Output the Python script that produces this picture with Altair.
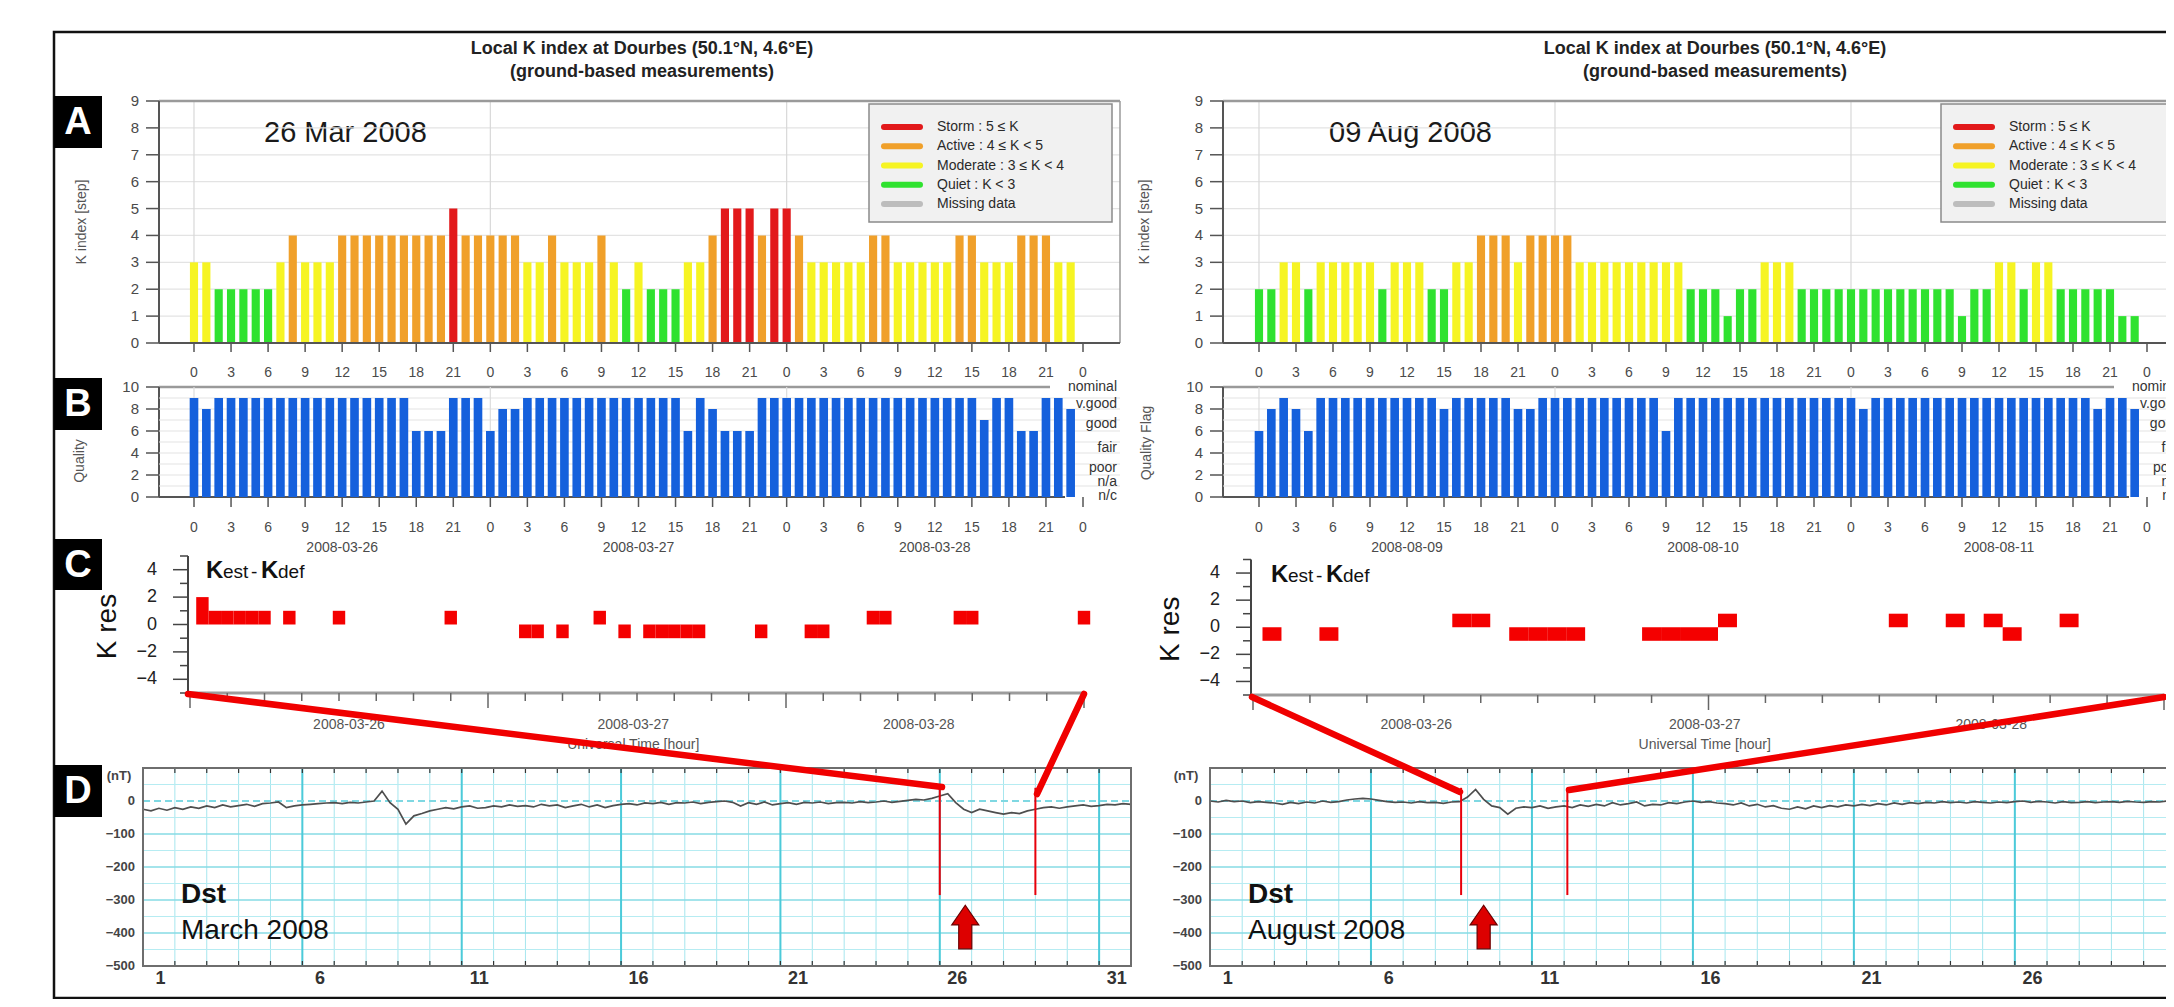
import altair as alt
import pandas as pd

# ====================== DATA ======================
HOURS = list(range(72))

K_MAR = [3, 3, 2, 2, 2, 2, 2, 3, 4, 3, 3, 3, 4, 4, 4, 4, 4, 4, 4, 4, 4, 5,
         4, 4, 4, 4, 4, 3, 3, 4, 3, 3, 3, 4, 3, 2, 3, 2, 2, 2, 3, 3, 4, 5,
         5, 5, 4, 5, 5, 4, 3, 3, 3, 3, 3, 4, 4, 3, 3, 3, 3, 3, 4, 4, 3, 3,
         3, 4, 4, 4, 3, 3]
K_AUG = [2, 2, 3, 3, 2, 3, 3, 3, 3, 3, 2, 3, 3, 3, 2, 2, 3, 3, 4, 4, 4, 3,
         4, 4, 4, 4, 3, 3, 3, 3, 3, 3, 3, 3, 3, 2, 2, 2, 1, 2, 2, 3, 3, 3,
         2, 2, 2, 2, 2, 2, 2, 2, 2, 2, 2, 2, 2, 1, 2, 2, 3, 3, 2, 3, 3, 2,
         2, 2, 2, 2, 1, 1]
Q_MAR = [9, 8, 9, 9, 9, 9, 9, 9, 9, 9, 9, 9, 9, 9, 9, 9, 9, 9,
         6, 6, 6, 9, 9, 9, 6, 8, 8,
         9, 9, 9, 9, 9, 9, 9, 9, 9, 9, 9, 9, 9,
         6, 9, 8, 6, 6, 6,
         9, 9, 9, 9, 9, 9, 9, 9, 9, 9, 9, 9, 9, 9, 9, 9, 9, 9,
         7, 9, 9, 6, 6, 9, 9, 8]
Q_AUG = [6, 8, 9, 8, 6,
         9, 9, 9, 9, 9, 9, 9, 9, 9, 9,
         8, 9, 9, 9, 9, 9, 8, 8,
         9, 9, 9, 9, 9, 9, 9, 9, 9, 9,
         6,
         9, 9, 9, 9, 9, 9, 9, 9, 9, 9, 9, 9, 9, 9, 9,
         8,
         9, 9, 9, 9, 9, 9, 9, 9, 9, 9, 9, 9, 9, 9, 9, 9, 9, 9,
         8, 9, 9, 8]

KRES_MAR_H = [1, 2, 3, 4, 5, 6, 8, 12, 21, 27, 28, 30, 33, 35, 37, 38, 39, 40,
              41, 46, 50, 51, 55, 56, 62, 63, 72]
KRES_MAR_V = [2, 1, 1, 1, 1, 1, 1, 1, 1, -1, -1, -1, 1, -1, -1, -1, -1, -1,
              -1, -1, -1, -1, 1, 1, 1, 1, 1]
KRES_AUG_H = [1, 4, 11, 12, 14, 15, 16, 17, 21, 22, 23, 24, 25, 34, 37, 39, 40, 43]
KRES_AUG_V = [-1, -1, 1, 1, -1, -1, -1, -1, -1, -1, -1, -1, 1, 1, 1, 1, -1, 1]

DST_DAYS = [1 + i * 0.25 for i in range(125)]
DST_MAR = [-25, -30, -22, -28, -20, -25, -18, -22, -15, -20, -12, -18,
           -14, -10, -16, -8, -6, -3, -20, -15, -12, -10, -8, -6,
           -5, -8, -4, -6, -3, 0, 30, -5, -25, -70, -45, -38,
           -30, -25, -20, -24, -18, -15, -22, -20, -15, -18, -12, -16,
           -14, -18, -10, -15, -12, -20, -15, -10, -18, -12, -20, -14,
           -10, -8, -12, -6, -8, -4, -10, -5, -6, -3, -8, -4,
           -2, 0, -4, -15, -5, -10, -3, -12, -8, -5, -10, -4,
           -6, -3, -8, -5, -4, -6, -2, -5, -3, 0, -4, -1,
           2, 5, 3, 8, 15, 22, -5, -25, -35, -25, -30, -35,
           -40, -35, -38, -30, -25, -20, -18, -22, -18, -15, -12, -16,
           -14, -10, -12, -8, -10]
DST_AUG = [0, -3, 2, -2, 0, -5, -2, -4, -6, -10, -4, -8,
           -3, -6, 0, -4, -2, 3, 6, 8, 6, 2, -2, -4,
           -3, -6, -2, -5, -4, -7, -3, -2, 12, 35, 5, -15,
           -20, -40, -22, -18, -20, -15, -22, -18, -15, -20, -12, -16,
           -10, -15, -5, -12, -8, -3, -15, -10, -12, -5, -8, -3,
           0, -4, -2, -6, -8, -12, -6, -15, -10, -18, -14, -22,
           -25, -18, -24, -15, -20, -14, -18, -12, -15, -10, -14, -8,
           -12, -6, -10, -5, -8, -4, -6, -2, -5, -3, -6, -2,
           -4, -6, -3, -5, -2, 0, -4, -1, -3, -6, -2, -5,
           -4, -2, -5, -3, -2, -4, -1, -3, -4, -2, -3, 0,
           -2, 0, -3, -1, -2]
MARKERS_MAR = [26.0, 29.0]
MARKERS_AUG = [8.8, 12.1]
ARROW_MAR = [26.8]
ARROW_AUG = [9.5]

K_CATS = ["Storm", "Active", "Moderate", "Quiet", "Missing"]
K_LABELS = ["Storm : 5 \u2264 K", "Active : 4 \u2264 K < 5", "Moderate : 3 \u2264 K < 4",
            "Quiet : K < 3", "Missing data"]
K_COLORS = ["#e2191b", "#f0a02a", "#f6f423", "#2fe22f", "#bdbdbd"]
QUALITY_NAMES = ["nominal", "v.good", "good", "fair", "poor", "n/a", "n/c"]
QUALITY_LEVELS = [10, 8.5, 6.6, 4.5, 2.6, 1.4, 0.1]
HOUR_TICKS = list(range(0, 73, 3))
DAY_BOUNDS = [0, 24, 48]
K_TICKS = list(range(10))
Q_TICKS = [0, 2, 4, 6, 8, 10]
KRES_TICKS = list(range(-5, 6))
KRES_LABELS = [-4, -2, 0, 2, 4]
DST_TICKS = [0, -100, -200, -300, -400, -500]
DST_GRID_100 = [-100, -200, -300, -400]
DST_GRID_50 = [50, -50, -150, -250, -350, -450]
DST_DAY_LABELS = [1, 6, 11, 16, 21, 26, 31]
DST_ALL_DAYS = list(range(1, 33))
DATES_MAR = ["2008-03-26", "2008-03-27", "2008-03-28"]
DATES_AUG = ["2008-08-09", "2008-08-10", "2008-08-11"]
DATE_HOURS = [12, 36, 60]
C_DATES = ["2008-03-26", "2008-03-27", "2008-03-28"]
C_DATE_HOURS_MAR = [12.8, 35.7, 58.7]
C_DATE_HOURS_AUG = [8.6, 23.8, 38.9]

# ====================== LAYOUT / STYLE ======================
OFF = 8
W, H = 2158, 991
FONT = "Liberation Sans, Arial, Helvetica, sans-serif"
A_Y = (343, 101)
B_Y = (497, 387)
D_Y = (966, 768)

LEFT = dict(title_x=642, a_x=(194, 1083), frame=(159, 1120), c_x=(190, 1084),
            c_y=(693, 556), c_span=72, d_x=(143, 1131), legend=(869, 1112),
            date_x=264, nominal_end=1050, kest_x=206, ylab_x=82, qlab_x=80, qlab_y=461,
            kres_x=108)
RIGHT = dict(title_x=1715, a_x=(1259, 2147), frame=(1223, 2184), c_x=(1253, 2164),
             c_y=(695, 559.5), c_span=48, d_x=(1210, 2208), legend=(1941, 2184),
             date_x=1329, nominal_end=2114, kest_x=1271, ylab_x=1145, qlab_x=1147, qlab_y=443,
             kres_x=1171)


def P(v):
    return v - OFF


def lin(dom, rng):
    return alt.Scale(domain=list(dom), range=[P(r) for r in rng], nice=False, zero=False)


ONE = pd.DataFrame({"o": [0]})


def label(s, x, y, size=14, color="#333", weight="normal", align="center",
          baseline="middle", angle=None):
    kw = dict(font=FONT, fontSize=size, color=color, fontWeight=weight, align=align,
              baseline=baseline)
    if angle is not None:
        kw["angle"] = angle
    return alt.Chart(pd.DataFrame({"t": [s]})).mark_text(**kw).encode(
        x=alt.value(P(x)), y=alt.value(P(y)), text="t:N")


def rect(x0, y0, x1, y1, fill="transparent", stroke="transparent", sw=0):
    return alt.Chart(ONE).mark_rect(fill=fill, stroke=stroke, strokeWidth=sw).encode(
        x=alt.value(P(x0)), x2=alt.value(P(x1)), y=alt.value(P(y0)), y2=alt.value(P(y1)))


def seg(x0, y0, x1, y1, color="#555", sw=1.0, dash=None, cap="butt"):
    kw = dict(color=color, strokeWidth=sw, strokeCap=cap)
    if dash:
        kw["strokeDash"] = dash
    return alt.Chart(ONE).mark_rule(**kw).encode(
        x=alt.value(P(x0)), x2=alt.value(P(x1)), y=alt.value(P(y0)), y2=alt.value(P(y1)))


def kcat(k):
    if k >= 5:
        return "Storm"
    if k >= 4:
        return "Active"
    if k >= 3:
        return "Moderate"
    return "Quiet"


KSCALE = alt.Scale(domain=K_CATS, range=K_COLORS)


# ---------------------------------------------------------------- panel A
def panel_a(K, cfg):
    fl, fr = cfg["frame"]
    y0, y9 = A_Y
    sx = lin((0, 72), cfg["a_x"])
    sy = lin((0, 9), A_Y)

    def X(f):
        return alt.X(f, scale=sx, axis=None)

    def Y(f):
        return alt.Y(f, scale=sy, axis=None)

    df = pd.DataFrame({"h": HOURS, "k": K, "cat": [kcat(k) for k in K]})
    grid_h = alt.Chart(pd.DataFrame({"v": K_TICKS[1:-1]})).mark_rule(
        color="#e3e3e3", strokeWidth=1.2).encode(y=Y("v:Q"), x=alt.value(P(fl)), x2=alt.value(P(fr)))
    grid_v = alt.Chart(pd.DataFrame({"h": DAY_BOUNDS})).mark_rule(
        color="#d8d8d8", strokeWidth=1.2).encode(x=X("h:Q"), y=alt.value(P(y9)), y2=alt.value(P(y0)))
    bars = alt.Chart(df).transform_calculate(
        x0="datum.h - 0.33", x1="datum.h + 0.33", base="0").mark_rect().encode(
        x=X("x0:Q"), x2="x1:Q", y=Y("k:Q"), y2="base:Q",
        color=alt.Color("cat:N", scale=KSCALE, legend=None))
    yt = alt.Chart(pd.DataFrame({"v": K_TICKS})).mark_rule(color="#555", strokeWidth=1.5).encode(
        y=Y("v:Q"), x=alt.value(P(fl - 13)), x2=alt.value(P(fl)))
    yl = alt.Chart(pd.DataFrame({"v": K_TICKS})).mark_text(
        font=FONT, fontSize=15, color="#4a4a4a", align="right", baseline="middle").encode(
        y=Y("v:Q"), x=alt.value(P(fl - 20)), text="v:Q")
    xt = alt.Chart(pd.DataFrame({"h": HOUR_TICKS})).mark_rule(color="#555", strokeWidth=1.5).encode(
        x=X("h:Q"), y=alt.value(P(y0)), y2=alt.value(P(y0 + 9)))
    xl = alt.Chart(pd.DataFrame({"h": HOUR_TICKS})).transform_calculate(
        lab="datum.h % 24").mark_text(font=FONT, fontSize=14, color="#4a4a4a",
                                      baseline="middle").encode(
        x=X("h:Q"), y=alt.value(P(373)), text="lab:Q")
    core = alt.layer(grid_h, grid_v, bars, yt, yl, xt, xl)
    frame = [
        seg(fl, y9, fr, y9, color="#9a9a9a", sw=2.5),
        seg(fr, y9, fr, y0, color="#9a9a9a", sw=1.5),
        seg(fl, y0, fr, y0, color="#555", sw=2),
        seg(fl, y9, fl, y0, color="#555", sw=2),
    ]
    # legend
    lx0, lx1 = cfg["legend"]
    sly = lin((0, 4), (127, 204))
    ldf = pd.DataFrame({"i": list(range(5)), "cat": K_CATS, "lab": K_LABELS})
    leg_lines = alt.Chart(ldf).mark_rule(strokeWidth=6, strokeCap="round").encode(
        y=alt.Y("i:Q", scale=sly, axis=None), x=alt.value(P(lx0 + 15)), x2=alt.value(P(lx0 + 51)),
        color=alt.Color("cat:N", scale=KSCALE, legend=None))
    leg_text = alt.Chart(ldf).mark_text(font=FONT, fontSize=14, color="#2a2a2a", align="left",
                                        baseline="middle").encode(
        y=alt.Y("i:Q", scale=sly, axis=None), x=alt.value(P(lx0 + 68)), text="lab:N")
    legend = [rect(lx0, 104, lx1, 222, fill="#f1f1f1", stroke="#8a8a8a", sw=1.5),
              alt.layer(leg_lines, leg_text)]
    return [core] + frame + legend


# ---------------------------------------------------------------- panel B
def panel_b(Q, cfg, dates):
    fl, fr = cfg["frame"]
    y0, y10 = B_Y
    sx = lin((0, 72), cfg["a_x"])
    sy = lin((0, 10), B_Y)

    def X(f):
        return alt.X(f, scale=sx, axis=None)

    def Y(f):
        return alt.Y(f, scale=sy, axis=None)

    df = pd.DataFrame({"h": HOURS, "q": Q})
    grid_h = alt.Chart(pd.DataFrame({"v": list(range(1, 10))})).mark_rule(
        color="#e3e3e3", strokeWidth=1.2).encode(y=Y("v:Q"), x=alt.value(P(fl)), x2=alt.value(P(fr)))
    grid_v = alt.Chart(pd.DataFrame({"h": DAY_BOUNDS})).mark_rule(
        color="#dddddd", strokeWidth=1.2).encode(x=X("h:Q"), y=alt.value(P(y10)), y2=alt.value(P(y0)))
    bars = alt.Chart(df).transform_calculate(
        x0="datum.h - 0.35", x1="datum.h + 0.35", base="0").mark_rect(color="#1560dc").encode(
        x=X("x0:Q"), x2="x1:Q", y=Y("q:Q"), y2="base:Q")
    yt = alt.Chart(pd.DataFrame({"v": Q_TICKS})).mark_rule(color="#555", strokeWidth=1.5).encode(
        y=Y("v:Q"), x=alt.value(P(fl - 13)), x2=alt.value(P(fl)))
    yl = alt.Chart(pd.DataFrame({"v": Q_TICKS})).mark_text(
        font=FONT, fontSize=15, color="#4a4a4a", align="right", baseline="middle").encode(
        y=Y("v:Q"), x=alt.value(P(fl - 20)), text="v:Q")
    xt = alt.Chart(pd.DataFrame({"h": HOUR_TICKS})).mark_rule(color="#555", strokeWidth=1.5).encode(
        x=X("h:Q"), y=alt.value(P(y0)), y2=alt.value(P(y0 + 10)))
    xl = alt.Chart(pd.DataFrame({"h": HOUR_TICKS})).transform_calculate(
        lab="datum.h % 24").mark_text(font=FONT, fontSize=14, color="#4a4a4a",
                                      baseline="middle").encode(
        x=X("h:Q"), y=alt.value(P(528)), text="lab:Q")
    dl = alt.Chart(pd.DataFrame({"h": DATE_HOURS, "d": dates})).mark_text(
        font=FONT, fontSize=14, color="#4a4a4a", baseline="middle").encode(
        x=X("h:Q"), y=alt.value(P(548)), text="d:N")
    ql = alt.Chart(pd.DataFrame({"n": QUALITY_NAMES, "v": QUALITY_LEVELS})).mark_text(
        font=FONT, fontSize=14, color="#333", align="right", baseline="middle").encode(
        y=Y("v:Q"), x=alt.value(P(fr - 3)), text="n:N")
    core = alt.layer(grid_h, grid_v, bars, yt, yl, xt, xl, dl, ql)
    frame = [
        seg(fl, y10, cfg["nominal_end"], y10, color="#9a9a9a", sw=2.5),
        seg(fl, y0, fr - 55, y0, color="#555", sw=2),
        seg(fl, y10, fl, y0, color="#555", sw=2),
    ]
    return frame + [core]


# ---------------------------------------------------------------- panel C
def panel_c(hs, vs, cfg, date_hours):
    cx0, cx1 = cfg["c_x"]
    yb, yt_ = cfg["c_y"]
    span = cfg["c_span"]
    sx = lin((0, span), (cx0, cx1))
    sy = lin((-5, 5), (yb, yt_))
    ax = cx0 - 2

    def X(f):
        return alt.X(f, scale=sx, axis=None)

    def Y(f):
        return alt.Y(f, scale=sy, axis=None)

    df = pd.DataFrame({"h": hs, "v": vs})
    blocks = alt.Chart(df).transform_calculate(
        x0="datum.h - 0.5", x1="datum.h + 0.5", base="0").mark_rect(color="#f40000").encode(
        x=X("x0:Q"), x2="x1:Q", y=Y("v:Q"), y2="base:Q")
    major = [v for v in KRES_TICKS if v % 2 == 0]
    minor = [v for v in KRES_TICKS if v % 2 != 0]
    ytm = alt.Chart(pd.DataFrame({"v": major})).mark_rule(color="#444", strokeWidth=1.5).encode(
        y=Y("v:Q"), x=alt.value(P(ax - 15)), x2=alt.value(P(ax)))
    ytn = alt.Chart(pd.DataFrame({"v": minor})).mark_rule(color="#444", strokeWidth=1.5).encode(
        y=Y("v:Q"), x=alt.value(P(ax - 8)), x2=alt.value(P(ax)))
    yl = alt.Chart(pd.DataFrame({"v": KRES_LABELS})).mark_text(
        font=FONT, fontSize=18, color="#222", align="right", baseline="middle").encode(
        y=Y("v:Q"), x=alt.value(P(ax - 31)), text="v:Q")
    hticks = list(range(0, span + 1, 3))
    big = [h for h in hticks if h % 24 == 0]
    small = [h for h in hticks if h % 24 != 0]
    xts = alt.Chart(pd.DataFrame({"h": small})).mark_rule(color="#666", strokeWidth=1.5).encode(
        x=X("h:Q"), y=alt.value(P(yb)), y2=alt.value(P(yb + 8)))
    xtb = alt.Chart(pd.DataFrame({"h": big})).mark_rule(color="#666", strokeWidth=1.5).encode(
        x=X("h:Q"), y=alt.value(P(yb)), y2=alt.value(P(yb + 15)))
    dl = alt.Chart(pd.DataFrame({"h": date_hours, "d": C_DATES})).mark_text(
        font=FONT, fontSize=14, color="#555", baseline="middle").encode(
        x=X("h:Q"), y=alt.value(P(725)), text="d:N")
    ut = alt.Chart(pd.DataFrame({"h": [date_hours[1]], "t": ["Universal Time [hour]"]})).mark_text(
        font=FONT, fontSize=14, color="#555", baseline="middle").encode(
        x=X("h:Q"), y=alt.value(P(745)), text="t:N")
    core = alt.layer(blocks, ytm, ytn, yl, xts, xtb, dl, ut)
    frame = [
        seg(ax, yt_, ax, yb, color="#444", sw=2),
        seg(ax, yb, cx1, yb, color="#9c9c9c", sw=3),
    ]
    kx = cfg["kest_x"]
    kb = yt_ + 22
    ann = [
        label("K", kx, kb, size=24, weight="bold", color="#111", align="left", baseline="alphabetic"),
        label("est", kx + 17, kb, size=19, color="#111", align="left", baseline="alphabetic"),
        label("-", kx + 45, kb, size=19, color="#111", align="left", baseline="alphabetic"),
        label("K", kx + 55, kb, size=24, weight="bold", color="#111", align="left", baseline="alphabetic"),
        label("def", kx + 72, kb, size=19, color="#111", align="left", baseline="alphabetic"),
        label("K res", cfg["kres_x"], (yb + yt_) / 2 + 2, size=28, color="#111", angle=270),
    ]
    return frame + [core] + ann


# ---------------------------------------------------------------- panel D
def panel_d(vals, markers, arrow, cfg, month):
    dx0, dx1 = cfg["d_x"]
    yb, yt_ = D_Y
    sx = lin((1, 32), (dx0, dx1))
    sy = lin((-500, 100), D_Y)

    def X(f):
        return alt.X(f, scale=sx, axis=None)

    def Y(f):
        return alt.Y(f, scale=sy, axis=None)

    thin_days = alt.Chart(pd.DataFrame({"d": DST_ALL_DAYS})).mark_rule(
        color="#a6e6ee", strokeWidth=1).encode(x=X("d:Q"), y=alt.value(P(yt_)), y2=alt.value(P(yb)))
    thick_days = alt.Chart(pd.DataFrame({"d": DST_DAY_LABELS})).mark_rule(
        color="#4ccad9", strokeWidth=2).encode(x=X("d:Q"), y=alt.value(P(yt_)), y2=alt.value(P(yb)))
    hgrid50 = alt.Chart(pd.DataFrame({"v": DST_GRID_50})).mark_rule(
        color="#b6ecf2", strokeWidth=1.2).encode(y=Y("v:Q"), x=alt.value(P(dx0)), x2=alt.value(P(dx1)))
    hgrid100 = alt.Chart(pd.DataFrame({"v": DST_GRID_100})).mark_rule(
        color="#86dbe5", strokeWidth=1.6).encode(y=Y("v:Q"), x=alt.value(P(dx0)), x2=alt.value(P(dx1)))
    zero = alt.Chart(pd.DataFrame({"v": [0]})).mark_rule(
        color="#7fd8e2", strokeWidth=2, strokeDash=[7, 4]).encode(
        y=Y("v:Q"), x=alt.value(P(dx0)), x2=alt.value(P(dx1)))
    ttop = alt.Chart(pd.DataFrame({"d": DST_ALL_DAYS})).mark_rule(color="#333", strokeWidth=1.2).encode(
        x=X("d:Q"), y=alt.value(P(yt_)), y2=alt.value(P(yt_ + 5)))
    tbot = alt.Chart(pd.DataFrame({"d": DST_ALL_DAYS})).mark_rule(color="#333", strokeWidth=1.2).encode(
        x=X("d:Q"), y=alt.value(P(yb - 5)), y2=alt.value(P(yb)))
    line = alt.Chart(pd.DataFrame({"d": DST_DAYS, "v": vals})).mark_line(
        color="#4e4e4e", strokeWidth=1.7).encode(x=X("d:Q"), y=Y("v:Q"))
    mk = alt.Chart(pd.DataFrame({"d": markers})).transform_calculate(
        top="40", bot="-285").mark_rule(color="#e8000b", strokeWidth=2).encode(
        x=X("d:Q"), y=Y("top:Q"), y2="bot:Q")
    arr = alt.Chart(pd.DataFrame({"d": arrow})).transform_calculate(v="-382").mark_point(
        shape="M -0.3 1 L -0.3 -0.1 L -0.62 -0.1 L 0 -1 L 0.62 -0.1 L 0.3 -0.1 L 0.3 1 Z",
        size=1900, filled=True, fill="#dd0000", stroke="#6a0000", strokeWidth=1.2, opacity=1).encode(
        x=X("d:Q"), y=Y("v:Q"))
    ylab = alt.Chart(pd.DataFrame({"v": DST_TICKS})).mark_text(
        font=FONT, fontSize=13, fontWeight="bold", color="#444", align="right",
        baseline="middle").encode(y=Y("v:Q"), x=alt.value(P(dx0 - 8)), text="v:Q")
    xlab = alt.Chart(pd.DataFrame({"d": DST_DAY_LABELS})).transform_calculate(
        xp="datum.d + 0.55").mark_text(font=FONT, fontSize=18, fontWeight="bold", color="#333",
                                       baseline="middle").encode(
        x=X("xp:Q"), y=alt.value(P(979)), text="d:Q")
    core = alt.layer(thin_days, hgrid50, hgrid100, thick_days, zero, ttop, tbot, line, mk, arr,
                     ylab, xlab)
    return [
        rect(dx0, yt_, dx1, yb, fill="white"),
        core,
        rect(dx0, yt_, dx1, yb, stroke="#6e6e6e", sw=2),
        label("(nT)", dx0 - 24, 776, size=13, weight="bold", color="#444"),
        label("Dst", dx0 + 38, 903, size=28, weight="bold", color="#111", align="left",
              baseline="alphabetic"),
        label(month, dx0 + 38, 939, size=28, color="#111", align="left", baseline="alphabetic"),
    ]


def half(cfg, K, Q, dates, date_label, khs, kvs, c_hours, dst, markers, arrow, month,
         qname):
    items = [
        label("Local K index at Dourbes (50.1\u00b0N, 4.6\u00b0E)", cfg["title_x"], 49, size=18,
              weight="bold", color="#222"),
        label("(ground-based measurements)", cfg["title_x"], 72, size=18, weight="bold",
              color="#222"),
        label("K index [step]", cfg["ylab_x"], 222, size=14, color="#555", angle=270),
        label(qname, cfg["qlab_x"], cfg["qlab_y"], size=14, color="#555", angle=270),
        label(date_label, cfg["date_x"], 142, size=29, color="#1a1a1a", align="left",
              baseline="alphabetic"),
    ]
    items += panel_a(K, cfg)
    items += panel_b(Q, cfg, dates)
    items += panel_c(khs, kvs, cfg, c_hours)
    items += panel_d(dst, markers, arrow, cfg, month)
    return items


charts = [rect(54, 32, 2220, 998, stroke="#111", sw=2.5)]
charts += half(LEFT, K_MAR, Q_MAR, DATES_MAR, "26 Mar 2008", KRES_MAR_H, KRES_MAR_V,
               C_DATE_HOURS_MAR, DST_MAR, MARKERS_MAR, ARROW_MAR, "March 2008", "Quality")
charts += half(RIGHT, K_AUG, Q_AUG, DATES_AUG, "09 Aug 2008", KRES_AUG_H, KRES_AUG_V,
               C_DATE_HOURS_AUG, DST_AUG, MARKERS_AUG, ARROW_AUG, "August 2008", "Quality Flag")

# panel letters
for letter, (y0, y1) in zip("ABCD", [(96, 148), (378, 430), (539, 590), (765, 817)]):
    charts.append(rect(54, y0, 102, y1, fill="#000"))
    charts.append(label(letter, 78, (y0 + y1) / 2 + 1, size=38, weight="bold", color="white"))

# zoom connectors (panel C window -> Dst time markers), figure pixels
CONNECTORS = [((188, 694), (942, 787)), ((1084, 694), (1037, 794)),
              ((1252, 697), (1460, 792)), ((2164, 697), (1569, 790))]
for (a, b) in CONNECTORS:
    charts.append(seg(a[0], a[1], b[0], b[1], color="#f00000", sw=6.5, cap="round"))

chart = alt.layer(*charts).resolve_scale(
    x="independent", y="independent", color="independent"
).properties(
    width=W, height=H, padding=0, background="white",
    autosize=alt.AutoSizeParams(type="none"),
).configure_view(stroke=None)

chart.save("out.html", embed_options={"renderer": "svg", "actions": False})
